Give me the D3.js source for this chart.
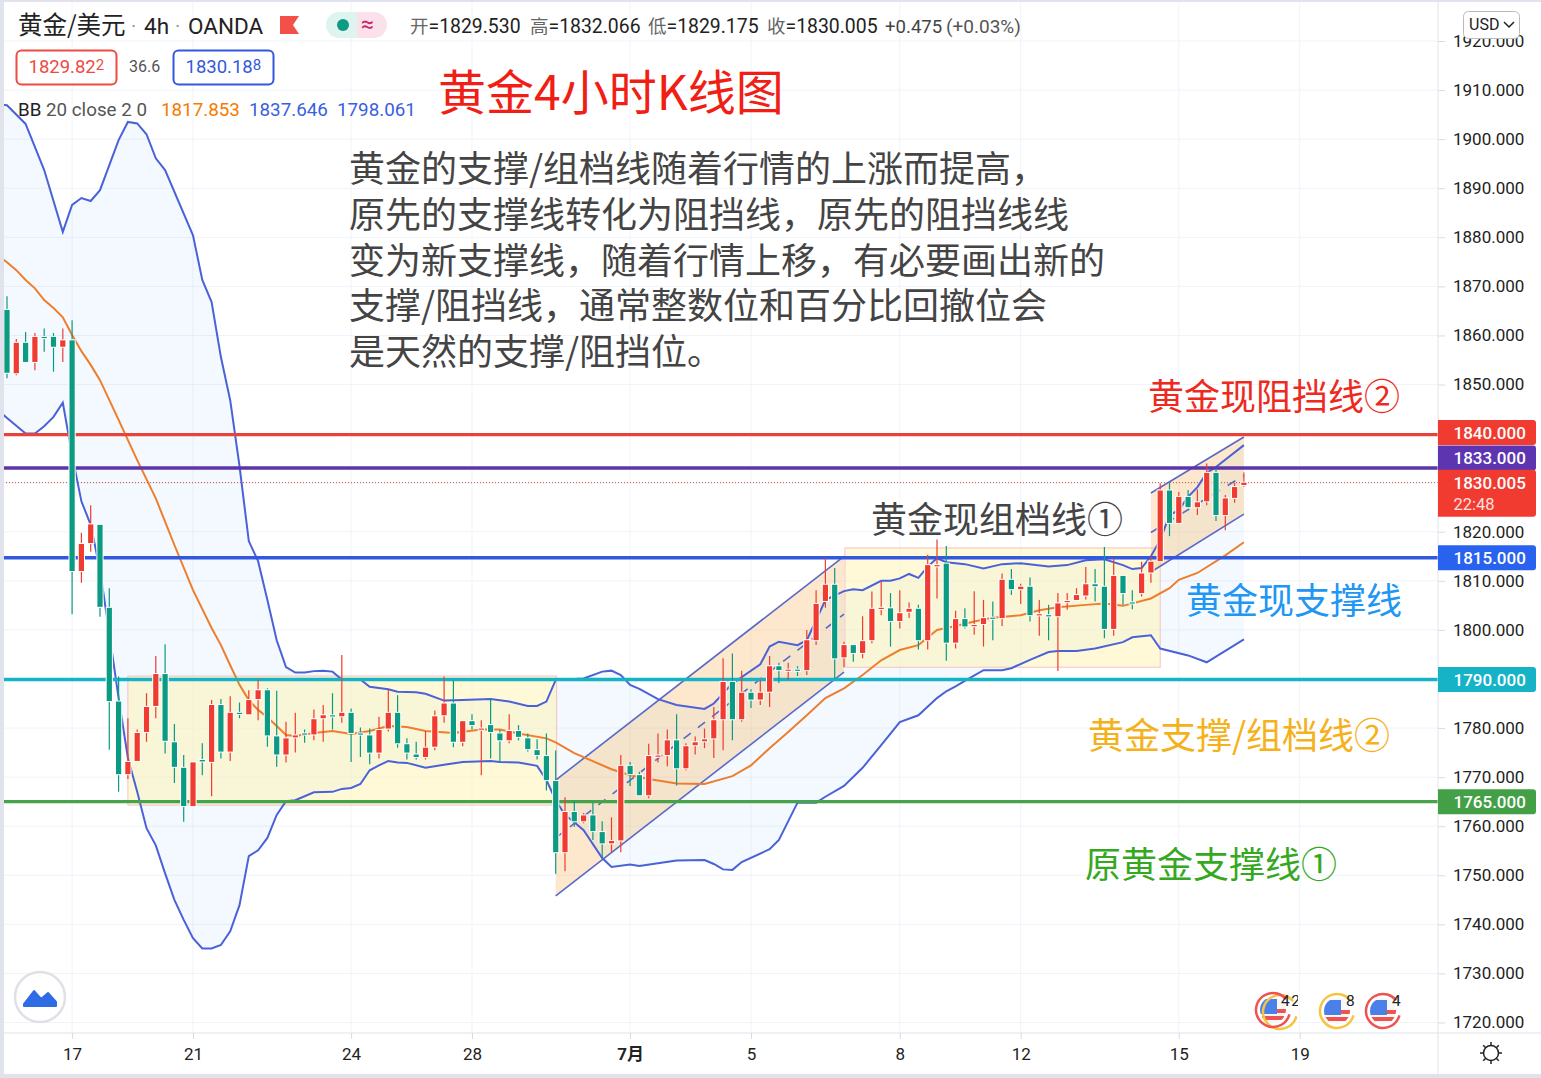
<!DOCTYPE html>
<html>
<head>
<meta charset="utf-8">
<title>黄金4小时K线图</title>
<script src="https://cdn.jsdelivr.net/npm/d3@7"></script>
<style>
body { margin: 0; background: #fff; }
svg { display: block; }
text { font-family: Roboto, "Noto Sans CJK SC", sans-serif; }
.cjk { font-family: "Noto Sans CJK SC", sans-serif; }
</style>
</head>
<body>
<svg width="1541" height="1078"></svg>
<script>
// candles, 4h bars, one entry per bar
const opens = [
1865.2,1852.3,1858.5,1854.6,1859.7,1859.7,1857.7,1859.0,1812.0,1817.7,
1821.4,1804.5,1785.4,1770.6,1773.3,1779.2,1784.5,1791.0,1777.1,1771.9,
1764.1,1773.5,1773.1,1784.7,1775.2,1783.1,1782.8,1785.9,1787.7,1778.3,
1774.6,1778.1,1778.9,1778.7,1782.0,1782.6,1782.4,1783.1,1778.9,1778.5,
1775.0,1779.9,1783.1,1776.7,1774.6,1774.1,1776.2,1782.6,1785.0,1777.2,
1781.4,1779.7,1780.6,1778.9,1777.5,1779.4,1777.9,1775.5,1774.3,1769.2,
1754.7,1762.9,1761.0,1762.2,1758.8,1756.5,1757.1,1772.3,1770.4,1766.3,
1774.2,1774.5,1777.5,1771.8,1776.5,1777.3,1777.9,1781.8,1789.4,1781.8,
1787.2,1785.8,1787.4,1792.6,1791.8,1791.9,1791.8,1797.9,1805.9,1809.2,
1794.4,1796.9,1795.3,1797.9,1804.3,1804.4,1801.8,1803.7,1804.3,1797.9,
1813.0,1813.5,1797.4,1802.2,1800.8,1801.2,1802.5,1802.4,1810.2,1808.3,
1808.8,1803.0,1803.0,1802.8,1805.7,1806.1,1807.0,1809.3,1808.8,1800.2,
1811.0,1805.6,1807.5,1811.7,1814.0,1828.4,1821.8,1827.1,1825.0,1826.2,
1832.0,1823.4,1826.9,1829.53];
const highs = [
1868.0,1859.3,1860.7,1860.5,1861.4,1860.5,1861.4,1863.1,1819.8,1825.4,
1821.4,1808.5,1790.5,1782.0,1779.7,1787.1,1794.7,1797.1,1780.8,1774.5,
1773.0,1776.9,1785.7,1785.9,1786.5,1785.2,1787.7,1789.9,1788.1,1787.6,
1781.3,1783.1,1779.7,1783.8,1784.7,1787.1,1794.9,1784.0,1780.1,1779.9,
1782.3,1787.8,1786.7,1777.9,1777.2,1779.4,1783.6,1790.5,1789.7,1781.4,
1782.8,1781.6,1786.0,1779.6,1782.8,1780.6,1778.9,1777.7,1778.9,1775.4,
1765.9,1765.3,1762.7,1764.8,1761.0,1761.8,1774.5,1773.1,1771.1,1776.8,
1778.9,1779.7,1782.8,1776.9,1778.3,1779.9,1784.3,1794.2,1795.2,1791.7,
1787.9,1789.8,1794.7,1793.3,1793.3,1792.6,1800.0,1808.1,1814.7,1812.6,
1797.6,1796.9,1802.8,1807.8,1809.8,1807.5,1808.1,1805.6,1805.1,1815.3,
1818.4,1817.1,1803.9,1804.4,1807.9,1806.1,1805.8,1811.5,1812.4,1809.4,
1810.7,1806.1,1805.1,1807.5,1807.5,1808.5,1812.8,1812.4,1816.9,1814.6,
1811.0,1808.1,1813.9,1815.0,1829.9,1829.9,1828.1,1828.5,1828.6,1833.9,
1832.9,1827.5,1830.0,1832.066];
const lows = [
1851.3,1851.9,1854.6,1852.9,1856.7,1852.6,1854.6,1803.2,1809.6,1815.9,
1802.7,1775.6,1767.0,1769.6,1773.3,1777.2,1782.0,1774.8,1768.8,1760.9,
1764.1,1770.4,1766.1,1773.8,1773.3,1782.0,1782.8,1781.6,1776.2,1772.1,
1773.0,1775.0,1777.0,1777.5,1777.2,1779.7,1781.1,1773.1,1774.1,1772.6,
1773.8,1779.3,1776.0,1773.6,1773.6,1773.6,1775.5,1781.1,1776.1,1776.3,
1779.7,1770.4,1773.8,1773.1,1776.9,1777.5,1775.2,1773.6,1767.3,1750.3,
1750.8,1759.9,1760.6,1757.2,1753.6,1754.7,1754.7,1768.2,1766.3,1765.7,
1773.0,1772.2,1768.3,1771.4,1774.6,1775.9,1773.9,1775.5,1777.5,1781.3,
1784.1,1784.7,1784.3,1789.2,1789.8,1790.6,1790.8,1796.9,1804.5,1790.0,
1792.4,1793.5,1794.2,1797.3,1803.0,1796.6,1800.3,1802.4,1796.0,1796.0,
1806.4,1793.7,1796.2,1800.3,1799.0,1796.6,1797.9,1800.8,1807.1,1805.3,
1801.7,1798.8,1797.9,1791.6,1804.1,1806.1,1806.2,1805.8,1798.3,1798.8,
1805.1,1804.2,1806.8,1809.6,1814.0,1819.1,1821.8,1825.0,1823.4,1825.4,
1822.2,1820.3,1825.9,1829.175];
const closes = [
1852.4,1858.5,1854.6,1859.7,1859.5,1857.7,1859.0,1812.0,1817.5,1821.5,
1804.7,1785.5,1770.6,1773.1,1779.0,1784.3,1791.0,1777.4,1772.1,1764.1,
1773.0,1773.2,1784.7,1775.2,1783.1,1782.9,1785.7,1787.7,1778.5,1774.6,
1777.9,1778.5,1778.7,1781.8,1782.6,1782.4,1783.1,1779.0,1778.7,1775.0,
1779.6,1783.1,1776.9,1775.0,1774.1,1776.0,1782.4,1785.0,1777.2,1781.4,
1780.6,1779.9,1779.2,1777.5,1779.4,1778.2,1775.7,1774.5,1769.4,1754.7,
1762.9,1761.0,1762.2,1759.0,1756.5,1757.0,1772.3,1770.6,1766.3,1774.3,
1774.4,1777.5,1771.8,1776.3,1777.1,1777.7,1781.6,1789.4,1781.8,1787.2,
1785.8,1787.2,1792.6,1791.8,1791.9,1791.8,1797.9,1805.3,1809.2,1794.2,
1796.9,1795.3,1797.7,1804.3,1804.5,1801.8,1803.4,1804.3,1797.9,1813.2,
1813.2,1797.4,1802.2,1800.7,1801.0,1802.4,1802.4,1810.2,1808.3,1808.8,
1803.0,1803.2,1802.9,1805.4,1805.9,1807.1,1809.3,1808.9,1800.2,1811.0,
1807.5,1805.4,1811.5,1813.9,1828.4,1821.8,1827.1,1825.0,1826.0,1832.0,
1823.4,1826.8,1829.1,1830.005];

// Bollinger bands: [bar, price]
const bbUpper = [[-1,1907.1],[0,1906.9],[2,1903.1],[4,1893.7],[6,1881.1],[7,1886.6],[8,1888.0],[9,1887.4],[10,1889.6],[12,1899.8],
[13,1903.5],[14,1903.2],[15,1901.0],[16,1896.1],[17,1893.7],[20,1880.4],[21,1871.3],[22,1866.8],[23,1855.6],[24,1846.8],
[25,1833.4],[26,1818.1],[27,1814.0],[28,1806.1],[29,1797.9],[30,1792.4],[31,1791.3],[32,1791.3],[33,1791.6],[34,1791.7],
[35,1791.5],[36,1789.9],[38,1789.9],[39,1788.4],[41,1787.9],[42,1787.4],[44,1787.3],[45,1787.0],[47,1785.6],[49,1785.7],
[52,1785.9],[54,1785.4],[56,1784.5],[57,1784.5],[58,1785.4],[59,1789.8],[62,1790.1],[64,1791.5],[65,1791.7],[66,1790.8],
[67,1788.8],[68,1788.0],[70,1785.9],[72,1784.7],[75,1783.9],[76,1785.0],[78,1789.1],[81,1793.0],[82,1796.6],[83,1797.6],
[85,1796.9],[86,1797.9],[88,1806.1],[90,1807.9],[91,1808.3],[92,1808.1],[94,1810.0],[95,1810.0],[96,1810.5],[97,1811.4],
[98,1810.6],[99,1812.9],[100,1814.6],[101,1813.8],[103,1813.4],[105,1812.5],[107,1813.4],[109,1813.6],[112,1812.9],[114,1813.2],
[116,1814.2],[118,1814.4],[120,1813.2],[121,1812.4],[122,1812.6],[123,1815.0],[124,1818.3],[125,1823.4],[126,1824.4],[127,1827.1],
[128,1829.1],[129,1832.0],[130,1833.2],[133,1837.646]];
const bbLower = [[-1,1844.8],[0,1843.2],[2,1840.0],[3,1840.0],[4,1841.5],[5,1843.4],[6,1846.3],[7,1835.6],[8,1826.2],[9,1821.4],
[10,1812.2],[11,1799.3],[12,1786.1],[13,1773.9],[14,1767.0],[15,1759.6],[16,1756.1],[17,1750.4],[18,1745.0],[19,1740.9],
[20,1737.2],[21,1735.1],[22,1735.1],[23,1735.8],[24,1738.6],[25,1743.9],[26,1753.9],[27,1755.1],[28,1757.6],[29,1762.3],
[30,1765.1],[31,1765.3],[33,1766.9],[35,1767.0],[36,1767.6],[37,1767.8],[38,1768.6],[39,1771.4],[40,1772.4],[41,1773.3],
[42,1773.0],[43,1772.9],[45,1771.9],[47,1772.5],[49,1773.1],[52,1773.3],[53,1773.1],[55,1773.0],[57,1772.3],[58,1769.4],
[59,1765.3],[60,1762.3],[61,1760.8],[62,1759.2],[64,1753.5],[65,1751.7],[67,1752.2],[68,1751.9],[72,1753.0],[75,1753.1],
[76,1752.3],[77,1751.2],[78,1751.1],[79,1752.7],[82,1755.3],[83,1757.2],[85,1764.8],[87,1764.8],[88,1766.0],[90,1768.2],
[92,1771.9],[94,1776.5],[96,1781.2],[98,1782.6],[100,1786.1],[101,1787.5],[102,1788.5],[103,1789.6],[105,1791.8],[107,1791.8],
[108,1792.2],[110,1793.9],[112,1795.5],[113,1795.7],[115,1795.7],[117,1796.2],[120,1797.5],[121,1798.5],[123,1798.9],[124,1796.2],
[127,1794.8],[129,1793.4],[133,1798.061]];
const bbBasis = [[-1,1876.4],[0,1874.9],[1,1873.3],[2,1871.3],[3,1869.6],[4,1867.2],[5,1865.6],[6,1863.7],[7,1860.1],[8,1856.8],
[9,1854.0],[10,1850.9],[12,1842.8],[14,1834.6],[16,1826.8],[18,1817.3],[20,1808.1],[22,1800.4],[23,1796.9],[24,1792.8],
[25,1788.8],[26,1785.7],[27,1783.7],[28,1782.2],[29,1780.4],[30,1778.6],[31,1778.4],[33,1779.0],[35,1779.4],[37,1778.8],
[39,1779.4],[41,1780.4],[43,1780.2],[45,1779.4],[48,1779.0],[51,1779.7],[53,1779.7],[55,1778.9],[58,1777.9],[59,1777.1],
[61,1774.9],[65,1771.6],[67,1770.4],[69,1769.6],[72,1768.7],[75,1768.6],[78,1770.2],[80,1772.4],[82,1775.9],[84,1779.2],
[86,1782.6],[88,1786.1],[90,1788.1],[92,1790.8],[94,1793.8],[96,1795.9],[98,1796.9],[100,1800.0],[102,1800.8],[104,1801.7],
[106,1802.5],[109,1803.0],[111,1804.0],[113,1804.6],[116,1805.1],[118,1805.4],[120,1804.9],[123,1806.4],[125,1808.5],[126,1810.2],
[128,1811.6],[131,1815.2],[133,1817.853]];

// axis ticks
const priceTicks = d3.range(1720, 1921, 10);
const dateBars = [7, 20, 37, 50, 67, 80, 96, 109, 126, 139];
const dateLabels = ["17", "21", "24", "28", "7月", "5", "8", "12", "15", "19"];

// horizontal support / resistance levels, as drawn on the picture
const levelPrices = [1839.8, 1833, 1814.7, 1789.9, 1765];
const levelLabels = ["1840.000", "1833.000", "1815.000", "1790.000", "1765.000"];
const levelColors = ["#e8433a", "#5e35a8", "#3358e0", "#16b3c6", "#47a34b"];
const tagColors = ["#f23b30", "#5e35b1", "#2962ee", "#16b3c6", "#43a047"];
const tagShift = [-2, -10, 0, 0, 0]; // tags pushed apart so they don't overlap
const lastPrice = 1830.005;

// drawings: [bar from, bar to, price top, price bottom]
const boxes = [[13, 59.1, 1790.6, 1764.3], [90.1, 124, 1816.7, 1792.4]];
// channels: [bar from, bar to, top start, top end, bottom start, bottom end]
const channels = [[59, 90, 1769.4, 1815.0, 1745.8, 1791.4], [123, 133, 1827.9, 1839.3, 1811.8, 1823.6]];

const W = 1541, H = 1078;
const plotRight = 1438, plotBottom = 1033;

const svg = d3.select("svg");
const x = d3.scaleLinear().domain([0, 133]).range([7, 1243.9]);
const y = d3.scaleLinear().domain([1720, 1920]).range([1022.5, 41]);

svg.append("clipPath").attr("id", "plot").append("rect")
    .attr("x", 4).attr("y", 0).attr("width", plotRight - 4).attr("height", plotBottom);

// gridlines
const grid = svg.append("g").attr("clip-path", "url(#plot)").attr("stroke", "#f0f3fa").attr("stroke-width", 1);
grid.selectAll(".h").data(priceTicks).enter().append("line")
    .attr("x1", 0).attr("x2", plotRight)
    .attr("y1", d => y(d)).attr("y2", d => y(d));
grid.selectAll(".v").data(dateBars).enter().append("line")
    .attr("x1", d => x(d)).attr("x2", d => x(d))
    .attr("y1", 0).attr("y2", plotBottom);

const plot = svg.append("g").attr("clip-path", "url(#plot)");

const line = d3.line().x(d => x(d[0])).y(d => y(d[1]));

// band fill between upper and lower
plot.append("path")
    .attr("d", line(bbUpper.concat(bbLower.slice().reverse())) + "Z")
    .attr("fill", "#2196f3").attr("fill-opacity", 0.055);

// yellow boxes
plot.selectAll(".box").data(boxes).enter().append("rect")
    .attr("x", d => x(d[0])).attr("width", d => x(d[1]) - x(d[0]))
    .attr("y", d => y(d[2])).attr("height", d => y(d[3]) - y(d[2]))
    .attr("fill", "#fff3b0").attr("fill-opacity", 0.5)
    .attr("stroke", "#f4c2c2").attr("stroke-width", 1);

// rising channels
channels.forEach(c => {
    const top = [[c[0], c[2]], [c[1], c[3]]];
    const bottom = [[c[0], c[4]], [c[1], c[5]]];
    const mid = [[c[0], (c[2] + c[4]) / 2], [c[1], (c[3] + c[5]) / 2]];
    plot.append("path")
        .attr("d", line(top.concat(bottom.slice().reverse())) + "Z")
        .attr("fill", "#f9b25a").attr("fill-opacity", 0.3);
    [top, bottom].forEach(p => plot.append("path").attr("d", line(p))
        .attr("fill", "none").attr("stroke", "#5a69c8").attr("stroke-width", 1.6));
    plot.append("path").attr("d", line(mid))
        .attr("fill", "none").attr("stroke", "#5a69c8").attr("stroke-width", 1.6)
        .attr("stroke-dasharray", "9 9");
});

// bollinger lines
[bbUpper, bbLower].forEach(s => plot.append("path").attr("d", line(s))
    .attr("fill", "none").attr("stroke", "#4a62d8").attr("stroke-width", 2));
plot.append("path").attr("d", line(bbBasis))
    .attr("fill", "none").attr("stroke", "#ee7e2d").attr("stroke-width", 2);

// levels
plot.selectAll(".level").data(levelPrices).enter().append("line")
    .attr("x1", 0).attr("x2", plotRight)
    .attr("y1", d => y(d)).attr("y2", d => y(d))
    .attr("stroke", (d, i) => levelColors[i]).attr("stroke-width", 3.4);
plot.append("line")
    .attr("x1", 0).attr("x2", plotRight)
    .attr("y1", y(lastPrice)).attr("y2", y(lastPrice))
    .attr("stroke", "#d9483b").attr("stroke-width", 1).attr("stroke-dasharray", "1 2");

// candles, red = up, green = down
const upColor = "#ef3b30", downColor = "#0b9a82";
const candles = plot.selectAll(".candle").data(opens).enter().append("g");
candles.append("line")
    .attr("x1", (d, i) => x(i)).attr("x2", (d, i) => x(i))
    .attr("y1", (d, i) => y(highs[i])).attr("y2", (d, i) => y(lows[i]))
    .attr("stroke", (d, i) => closes[i] >= d ? upColor : downColor)
    .attr("stroke-width", 1.2);
candles.append("rect")
    .attr("x", (d, i) => x(i) - 2.6).attr("width", 5.2)
    .attr("y", (d, i) => y(Math.max(d, closes[i])))
    .attr("height", (d, i) => Math.max(1.2, Math.abs(y(d) - y(closes[i]))))
    .attr("fill", (d, i) => closes[i] >= d ? upColor : downColor)
    .attr("stroke", "#fff").attr("stroke-width", 2).style("paint-order", "stroke");

// price axis
const yAxis = d3.axisRight(y).tickValues(priceTicks).tickFormat(d3.format(".3f")).tickSize(7).tickPadding(8);
const yG = svg.append("g").attr("transform", `translate(${plotRight},0)`).call(yAxis);
yG.select(".domain").remove();
yG.selectAll("line").attr("stroke", "#d8dbe3");
yG.selectAll("text").attr("font-size", 17).attr("fill", "#222");
svg.append("line").attr("x1", plotRight).attr("x2", plotRight).attr("y1", 0).attr("y2", 1074).attr("stroke", "#e0e3eb");

// time axis
const xAxis = d3.axisBottom(x).tickValues(dateBars).tickFormat((d, i) => dateLabels[i]).tickSize(6).tickPadding(9);
const xG = svg.append("g").attr("transform", `translate(0,${plotBottom})`).call(xAxis);
xG.select(".domain").remove();
xG.selectAll("line").attr("stroke", "#d8dbe3");
xG.selectAll("text").attr("font-size", 17).attr("fill", "#222")
    .attr("font-weight", (d, i) => dateLabels[i] === "7月" ? 700 : 400);
svg.append("line").attr("x1", 0).attr("x2", W).attr("y1", plotBottom).attr("y2", plotBottom).attr("stroke", "#e0e3eb");

// level tags on the axis
const tags = svg.append("g");
const tagHeight = 25;
levelPrices.forEach((p, i) => {
    const cy = y(p) + tagShift[i];
    tags.append("path")
        .attr("d", `M${plotRight},${cy - tagHeight / 2}h95a3,3 0 0 1 3,3v${tagHeight - 6}a3,3 0 0 1 -3,3h-95z`)
        .attr("fill", tagColors[i]);
    tags.append("text").attr("x", plotRight + 15.5).attr("y", cy).attr("dy", "0.36em")
        .attr("fill", "#fff").attr("font-size", 17).attr("font-weight", 500)
        .text(levelLabels[i]);
});
tags.append("path")
    .attr("d", `M${plotRight},${y(lastPrice) - 13}h95a3,3 0 0 1 3,3v41a3,3 0 0 1 -3,3h-95z`)
    .attr("fill", "#f23b30");
tags.append("text").attr("x", plotRight + 15.5).attr("y", y(lastPrice)).attr("dy", "0.36em")
    .attr("fill", "#fff").attr("font-size", 17).attr("font-weight", 500).text(d3.format(".3f")(lastPrice));
tags.append("text").attr("x", plotRight + 15.5).attr("y", y(lastPrice) + 21.5).attr("dy", "0.36em")
    .attr("fill", "#fde0dd").attr("font-size", 16.5).text("22:48");

// helper for the loose text on the page
function put(txt, px, py, size, color, cls) {
    return svg.append("text").attr("x", px).attr("y", py).attr("font-size", size)
        .attr("fill", color).attr("class", cls || null).text(txt);
}

// legend row
put("黄金/美元", 18, 34, 24.5, "#222", "cjk");
put("·", 131, 33, 20, "#999");
put("4h", 144, 34, 22.5, "#222");
put("·", 175, 33, 20, "#999");
put("OANDA", 188, 34, 22.5, "#222");
svg.append("path").attr("d", "M280,16h19l-6,9l6,9h-19z").attr("fill", "#f4504a");
svg.append("path").attr("d", "M340,12h-1a13,13 0 0 0 0,26h18v-26z").attr("fill", "#dff3ef");
svg.append("path").attr("d", "M357,12h17a13,13 0 0 1 0,26h-17z").attr("fill", "#fbe1ea");
svg.append("circle").attr("cx", 343).attr("cy", 25).attr("r", 6).attr("fill", "#0b9a82");
put("≈", 361, 32, 23, "#c2296c");

const ohlcX = [410, 530, 648, 767];
const ohlcLabel = ["开", "高", "低", "收"];
const ohlcValue = ["1829.530", "1832.066", "1829.175", "1830.005"];
ohlcX.forEach((px, i) => {
    const t = put("", px, 33, 19.4, "#222");
    t.append("tspan").attr("class", "cjk").attr("fill", "#666").attr("font-size", 18.5).text(ohlcLabel[i]);
    t.append("tspan").text("=" + ohlcValue[i]);
});
put("+0.475", 885, 33, 18.6, "#444");
put("(+0.03%)", 946, 33, 19, "#555");

// bid / ask boxes
function quoteBox(left, color, main, sup) {
    svg.append("rect").attr("x", left).attr("y", 50.5).attr("width", 100).attr("height", 34).attr("rx", 5)
        .attr("fill", "#fff").attr("stroke", color).attr("stroke-width", 2);
    const t = put("", left + 12, 73, 18.5, color);
    t.append("tspan").text(main);
    t.append("tspan").attr("font-size", 15).attr("dy", -3).text(sup);
}
quoteBox(16.5, "#ee4b43", "1829.82", "2");
quoteBox(173.5, "#3358e0", "1830.18", "8");
put("36.6", 129, 72, 16, "#555");

put("BB", 18, 116, 18.8, "#222");
put("20 close 2 0", 46, 116, 18.8, "#555");
put("1817.853", 161, 116, 18.8, "#f57c00");
put("1837.646", 249, 116, 18.8, "#3a5fe0");
put("1798.061", 337, 116, 18.8, "#3a5fe0");

// annotations
put("黄金4小时K线图", 438, 110, 48, "#f01e14", "cjk");
const notes = [
    "黄金的支撑/组档线随着行情的上涨而提高，",
    "原先的支撑线转化为阻挡线，原先的阻挡线线",
    "变为新支撑线，随着行情上移，有必要画出新的",
    "支撑/阻挡线，通常整数位和百分比回撤位会",
    "是天然的支撑/阻挡位。"
];
notes.forEach((s, i) => put(s, 349, 182 + i * 45.8, 36, "#444", "cjk"));
put("黄金现阻挡线②", 1148, 410, 36, "#ee2a1e", "cjk");
put("黄金现组档线①", 871, 533, 36, "#444", "cjk");
put("黄金现支撑线", 1186, 614, 36, "#2196f3", "cjk");
put("黄金支撑/组档线②", 1088, 749, 36, "#f5b11a", "cjk");
put("原黄金支撑线①", 1085, 878, 36, "#36a81f", "cjk");

// USD button
svg.append("rect").attr("x", 1463.5).attr("y", 11.5).attr("width", 56).attr("height", 27).attr("rx", 5)
    .attr("fill", "#fff").attr("stroke", "#b8bbc4");
put("USD", 1469, 30, 16, "#222");
svg.append("path").attr("d", "M1504,22l5,5l5,-5").attr("fill", "none").attr("stroke", "#222").attr("stroke-width", 1.5);

// logo badge
svg.append("circle").attr("cx", 40).attr("cy", 997).attr("r", 25).attr("fill", "#fff")
    .attr("stroke", "#dfe1e7").attr("stroke-width", 2.5);
svg.append("path").attr("d", "M24,1004l10,-13l7,8l7,-6l8,9v4h-32z").attr("fill", "#2e6ce6")
    .attr("stroke", "#2e6ce6").attr("stroke-width", 2).attr("stroke-linejoin", "round");

// settings icon
const gear = svg.append("g").attr("transform", "translate(1491,1053)").attr("stroke", "#222").attr("stroke-width", 1.5);
gear.append("circle").attr("r", 7.5).attr("fill", "none");
d3.range(8).forEach(k => {
    const a = k * Math.PI / 4;
    gear.append("line").attr("x1", 7.5 * Math.cos(a)).attr("y1", 7.5 * Math.sin(a))
        .attr("x2", 11 * Math.cos(a)).attr("y2", 11 * Math.sin(a));
});

// economic event flags
function usFlag(cx, cy, id) {
    svg.append("clipPath").attr("id", id).append("circle").attr("cx", cx).attr("cy", cy).attr("r", 13);
    const f = svg.append("g").attr("clip-path", `url(#${id})`);
    f.append("rect").attr("x", cx - 14).attr("y", cy - 14).attr("width", 28).attr("height", 28).attr("fill", "#f7f7f7");
    f.append("rect").attr("x", cx - 14).attr("y", cy + 6).attr("width", 28).attr("height", 4).attr("fill", "#ef5350");
    f.append("rect").attr("x", cx + 3).attr("y", cy - 1).attr("width", 11).attr("height", 4).attr("fill", "#ef5350");
    f.append("rect").attr("x", cx - 13).attr("y", cy - 11).attr("width", 17).attr("height", 15).attr("fill", "#4a80e8");
}
function ring(cx, cy, color) {
    svg.append("circle").attr("cx", cx).attr("cy", cy).attr("r", 17).attr("fill", "none")
        .attr("stroke", color).attr("stroke-width", 2.5).attr("stroke-dasharray", "90 17")
        .attr("transform", `rotate(15 ${cx} ${cy})`);
}
usFlag(1273, 1010, "f1");
ring(1280, 1012, "#f5c542");
ring(1273, 1010, "#ef5350");
usFlag(1337, 1011, "f2");
ring(1337, 1011, "#f5c542");
usFlag(1383, 1011, "f3");
ring(1383, 1011, "#ef5350");
svg.append("clipPath").attr("id", "f1t").append("rect").attr("x", 1270).attr("y", 985).attr("width", 28).attr("height", 30);
put("42", 1281, 1006, 15.5, "#222").attr("clip-path", "url(#f1t)").attr("letter-spacing", 1.5);
put("8", 1346, 1006, 15.5, "#222");
put("4", 1392, 1006, 15.5, "#222");

// page edges
svg.append("rect").attr("x", 0).attr("y", 0).attr("width", 4).attr("height", H).attr("fill", "#e0e3eb");
svg.append("rect").attr("x", 0).attr("y", 0).attr("width", W).attr("height", 2).attr("fill", "#e0e3eb");
svg.append("rect").attr("x", 0).attr("y", 1074).attr("width", W).attr("height", 4).attr("fill", "#e0e3eb");
</script>
</body>
</html>
